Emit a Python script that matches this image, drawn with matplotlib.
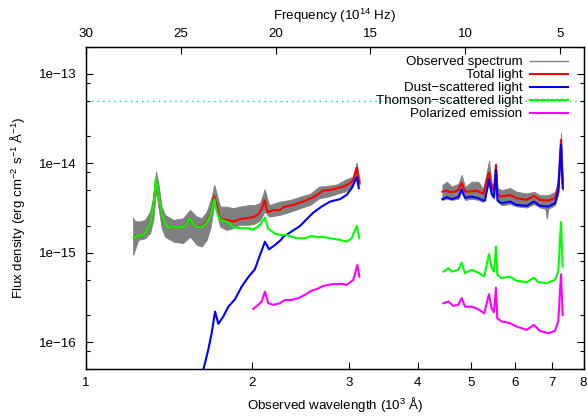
import matplotlib
matplotlib.use('Agg')
import matplotlib.pyplot as plt
from matplotlib.lines import Line2D
from matplotlib.ticker import FixedLocator, NullLocator

plt.rcParams['font.family'] = ['Liberation Sans', 'DejaVu Sans']
plt.rcParams['mathtext.fontset'] = 'custom'
plt.rcParams['mathtext.rm'] = 'Liberation Sans'
plt.rcParams['mathtext.it'] = 'Liberation Sans:italic'
plt.rcParams['font.size'] = 9.6

# wavelengths in 10^3 A, fluxes in erg cm^-2 s^-1 A^-1
e15 = 1e-15
e16 = 1e-16

# observed spectrum: upper / lower edge of the noisy trace
obs_uv_wave = [1.218, 1.222, 1.244, 1.280, 1.307, 1.325, 1.340, 1.353, 1.372, 1.391, 1.440,
               1.500, 1.545, 1.589, 1.622, 1.656, 1.684, 1.710, 1.751, 1.800, 1.850, 1.900,
               1.970, 2.020, 2.070, 2.110, 2.150, 2.250, 2.350, 2.450, 2.550, 2.650, 2.750,
               2.850, 2.950, 3.050, 3.100, 3.130, 3.140]
obs_uv_hi = [2.45, 2.30, 2.23, 2.33, 2.88, 4.24, 8.07, 5.99, 3.28, 2.65, 2.33,
             2.43, 3.01, 2.53, 2.43, 2.88, 3.90, 5.73, 3.28, 3.28, 3.15, 3.28,
             3.40, 3.40, 3.60, 5.13, 3.42, 3.73, 3.90, 4.24, 4.55, 5.49, 5.60,
             5.80, 6.50, 7.10, 10.2, 7.10, 6.50]
obs_uv_lo = [0.95, 1.00, 1.39, 1.45, 1.65, 2.33, 5.04, 3.28, 1.88, 1.51, 1.33,
             1.28, 1.51, 1.22, 1.17, 1.39, 1.96, 3.58, 1.96, 1.80, 1.88, 2.05,
             2.05, 2.10, 2.30, 2.90, 2.53, 2.65, 2.88, 3.15, 3.42, 4.07, 4.24,
             4.55, 4.82, 5.49, 7.50, 5.70, 5.90]

obs_opt_wave = [4.436, 4.517, 4.612, 4.741, 4.808, 4.875, 5.013, 5.150, 5.262, 5.389,
                5.450, 5.503, 5.549, 5.584, 5.683, 5.884, 6.050, 6.310, 6.505, 6.670,
                6.820, 6.860, 6.905, 7.101, 7.200, 7.282, 7.334]
obs_opt_hi = [5.73, 6.24, 5.49, 5.90, 7.42, 5.40, 6.24, 6.24, 5.20, 10.7,
              6.00, 5.80, 10.0, 5.30, 5.00, 5.30, 4.80, 4.60, 4.80, 4.40,
              4.40, 4.40, 4.40, 4.80, 6.50, 22.0, 7.00]
obs_opt_lo = [3.90, 4.00, 3.90, 4.00, 4.80, 3.90, 4.00, 3.90, 3.70, 6.00,
              4.30, 4.00, 7.50, 3.70, 3.40, 3.50, 3.30, 3.20, 3.50, 3.20,
              3.10, 2.40, 3.10, 3.40, 4.60, 15.0, 5.00]

# total light
total_uv_wave = [1.222, 1.244, 1.257, 1.280, 1.307, 1.325, 1.340, 1.353, 1.372, 1.391, 1.411,
                 1.440, 1.461, 1.477, 1.502, 1.523, 1.545, 1.562, 1.589, 1.622, 1.656, 1.684,
                 1.710, 1.751, 1.801, 1.851, 1.903, 1.957, 2.012, 2.055, 2.084, 2.110, 2.134,
                 2.188, 2.250, 2.281, 2.378, 2.480, 2.586, 2.696, 2.812, 2.932, 3.015, 3.057,
                 3.101, 3.122, 3.135]
total_uv_flux = [1.45, 1.58, 1.54, 1.65, 2.05, 3.28, 6.64, 4.63, 2.77, 2.14, 1.88,
                 1.99, 1.88, 1.96, 1.93, 2.05, 2.43, 2.14, 1.95, 1.97, 2.20, 2.75,
                 4.24, 2.37, 2.33, 2.23, 2.37, 2.43, 2.50, 2.70, 3.10, 3.85, 2.85,
                 3.00, 3.00, 3.23, 3.42, 3.73, 4.18, 4.95, 5.13, 5.49, 5.99, 6.52,
                 8.95, 6.81, 6.08]
total_opt_wave = [4.436, 4.498, 4.580, 4.676, 4.741, 4.808, 4.875, 4.977, 5.119, 5.262,
                  5.389, 5.450, 5.503, 5.549, 5.584, 5.683, 5.884, 6.050, 6.310, 6.505,
                  6.670, 6.905, 7.101, 7.200, 7.282, 7.334]
total_opt_flux = [4.82, 4.95, 4.75, 4.82, 5.04, 6.00, 4.85, 4.82, 4.95, 4.55,
                  7.87, 5.27, 5.04, 9.60, 4.43, 4.24, 4.43, 4.07, 3.90, 4.32,
                  3.90, 3.83, 4.07, 5.49, 18.3, 5.99]

# dust-scattered light
dust_uv_wave = [1.633, 1.667, 1.691, 1.715, 1.739, 1.775, 1.813, 1.864, 1.917, 1.970,
                2.026, 2.070, 2.113, 2.149, 2.203, 2.259, 2.281, 2.346, 2.446, 2.515,
                2.586, 2.678, 2.773, 2.891, 2.973, 3.036, 3.101, 3.128]
dust_uv_flux = [0.49, 0.82, 1.26, 2.19, 1.60, 1.93, 2.49, 3.02, 4.18, 5.32,
                6.54, 9.45, 13.3, 10.9, 12.2, 13.9, 15.1, 16.8, 19.9, 23.7,
                28.1, 32.8, 37.3, 39.7, 44.3, 52.7, 69.9, 52.7]
dust_opt_wave = [4.436, 4.517, 4.612, 4.741, 4.808, 4.875, 5.013, 5.153, 5.262, 5.300,
                 5.389, 5.450, 5.503, 5.549, 5.584, 5.683, 5.884, 6.050, 6.310, 6.505,
                 6.670, 6.905, 7.101, 7.200, 7.282, 7.334]
dust_opt_flux = [3.97, 4.18, 3.97, 4.18, 5.10, 4.10, 4.24, 4.07, 3.83, 3.83,
                 6.64, 4.55, 4.18, 8.44, 3.83, 3.58, 3.73, 3.42, 3.34, 3.73,
                 3.34, 3.28, 3.58, 4.82, 16.1, 5.27]

# Thomson-scattered light
thom_uv_wave = [1.222, 1.244, 1.257, 1.280, 1.307, 1.325, 1.340, 1.353, 1.372, 1.391, 1.411,
                1.440, 1.461, 1.477, 1.502, 1.523, 1.545, 1.562, 1.589, 1.622, 1.656, 1.684,
                1.710, 1.727, 1.751, 1.801, 1.851, 1.903, 1.970, 2.012, 2.070, 2.113, 2.142,
                2.203, 2.249, 2.314, 2.412, 2.497, 2.568, 2.623, 2.678, 2.773, 2.891, 2.973,
                3.036, 3.101, 3.135]
thom_uv_flux = [1.45, 1.58, 1.54, 1.65, 2.05, 3.28, 6.64, 4.63, 2.77, 2.14, 1.88,
                1.99, 1.88, 1.96, 1.93, 2.05, 2.43, 2.14, 1.93, 1.93, 2.14, 2.65,
                3.97, 2.88, 2.33, 2.23, 1.93, 1.88, 1.88, 1.80, 2.05, 2.47, 1.85,
                1.63, 1.58, 1.58, 1.45, 1.45, 1.54, 1.49, 1.51, 1.45, 1.39, 1.33,
                1.45, 1.99, 1.45]
thom_opt_wave = [4.454, 4.548, 4.612, 4.741, 4.808, 4.875, 5.013, 5.153, 5.284, 5.389,
                 5.450, 5.503, 5.549, 5.580, 5.683, 5.884, 6.050, 6.310, 6.505, 6.622,
                 6.859, 7.101, 7.200, 7.282, 7.334]
thom_opt_flux = [6.14, 6.71, 6.14, 6.42, 7.75, 5.90, 6.42, 5.99, 5.40, 9.62,
                 6.81, 6.14, 11.7, 5.65, 5.19, 5.40, 4.84, 4.68, 5.26, 4.68,
                 4.56, 4.96, 6.14, 22.1, 6.99]

# polarized emission
pol_uv_wave = [2.012, 2.055, 2.084, 2.113, 2.142, 2.188, 2.249, 2.297, 2.362, 2.429,
               2.497, 2.568, 2.623, 2.696, 2.793, 2.912, 2.973, 3.057, 3.109, 3.135]
pol_uv_flux = [2.35, 2.61, 2.84, 3.67, 2.72, 2.61, 2.72, 2.96, 2.96, 3.10,
               3.37, 3.77, 3.91, 4.25, 4.44, 4.48, 4.36, 4.96, 7.30, 5.40]
pol_opt_wave = [4.454, 4.548, 4.643, 4.741, 4.808, 4.875, 5.013, 5.153, 5.284, 5.389,
                5.450, 5.503, 5.549, 5.580, 5.683, 5.884, 6.050, 6.310, 6.505, 6.670,
                6.905, 7.101, 7.200, 7.282, 7.334]
pol_opt_flux = [2.72, 2.84, 2.54, 2.61, 3.10, 2.49, 2.49, 2.33, 2.10, 3.43,
                2.39, 2.16, 4.07, 1.85, 1.70, 1.63, 1.49, 1.37, 1.56, 1.33,
                1.26, 1.33, 1.70, 5.75, 2.01]

ref_level = 5e-14

x_ticks = [1, 2, 3, 4, 5, 6, 7, 8]
freq_ticks = [30, 25, 20, 15, 10, 5]
y_major = [1e-16, 1e-15, 1e-14, 1e-13]
y_minor = [m * d for d in [1e-17, 1e-16, 1e-15, 1e-14, 1e-13] for m in (2, 5, 8)]

fig = plt.figure(figsize=(5.87, 4.2), dpi=100)
ax = fig.add_axes([86 / 587, 1 - 369 / 420, 497.5 / 587, 322 / 420])

def sc(vals, unit):
    return [v * unit for v in vals]

ax.axhline(ref_level, color='#00d0d0', lw=1.0, ls=(0, (1, 3)), zorder=1)

for w, lo, hi in [(obs_uv_wave, obs_uv_lo, obs_uv_hi), (obs_opt_wave, obs_opt_lo, obs_opt_hi)]:
    ax.fill_between(w, sc(lo, e15), sc(hi, e15), color='#808080', lw=0.6, edgecolor='#808080', zorder=2)

lw = 1.5
ax.plot(total_uv_wave, sc(total_uv_flux, e15), color='#ff0000', lw=lw, zorder=3)
ax.plot(total_opt_wave, sc(total_opt_flux, e15), color='#ff0000', lw=lw, zorder=3)
ax.plot(dust_uv_wave, sc(dust_uv_flux, e16), color='#0000ff', lw=lw, zorder=4)
ax.plot(dust_opt_wave, sc(dust_opt_flux, e15), color='#0000ff', lw=lw, zorder=4)
ax.plot(thom_uv_wave, sc(thom_uv_flux, e15), color='#00ff00', lw=lw, zorder=5)
ax.plot(thom_opt_wave, sc(thom_opt_flux, e16), color='#00ff00', lw=lw, zorder=5)
ax.plot(pol_uv_wave, sc(pol_uv_flux, e16), color='#ff00ff', lw=lw, zorder=6)
ax.plot(pol_opt_wave, sc(pol_opt_flux, e16), color='#ff00ff', lw=lw, zorder=6)

ax.set_xscale('log')
ax.set_yscale('log')
ax.set_xlim(1, 8)
ax.set_ylim(5e-17, 2e-13)

ax.xaxis.set_major_locator(FixedLocator(x_ticks))
ax.xaxis.set_minor_locator(NullLocator())
ax.set_xticklabels([str(t) for t in x_ticks])
ax.yaxis.set_major_locator(FixedLocator(y_major))
ax.yaxis.set_minor_locator(FixedLocator(y_minor))
ax.set_yticklabels(['1e\u221216', '1e\u221215', '1e\u221214', '1e\u221213'])
ax.yaxis.set_minor_formatter(plt.NullFormatter())

ax.tick_params(axis='x', which='both', direction='in', top=False, length=5, width=0.8, pad=6)
ax.tick_params(axis='y', which='major', direction='in', left=True, right=True, length=5, width=0.8, pad=7)
ax.tick_params(axis='y', which='minor', direction='in', left=True, right=True, length=3, width=0.8)
for s in ax.spines.values():
    s.set_linewidth(1.0)

ax.set_xlabel('Observed wavelength (10$^{3}$ \u00c5)', labelpad=4)
ax.set_ylabel('Flux density (erg cm$^{\u22122}$ s$^{\u22121}$ \u00c5$^{\u22121}$)', labelpad=8)

ax2 = ax.twiny()
ax2.set_xlim(30, 3.75)
ax2.xaxis.set_major_locator(FixedLocator(freq_ticks))
ax2.set_xticklabels([str(t) for t in freq_ticks])
ax2.tick_params(axis='x', direction='in', length=5, width=0.8, pad=5)
ax2.set_xlabel('Frequency (10$^{14}$ Hz)', labelpad=6)

handles = [Line2D([], [], color='#808080', lw=1.0),
           Line2D([], [], color='#ff0000', lw=lw),
           Line2D([], [], color='#0000ff', lw=lw),
           Line2D([], [], color='#00ff00', lw=lw),
           Line2D([], [], color='#ff00ff', lw=lw)]
labels = ['Observed spectrum', 'Total light', 'Dust\u2212scattered light',
          'Thomson\u2212scattered light', 'Polarized emission']
leg = ax.legend(handles, labels, loc='upper right', bbox_to_anchor=(0.968, 0.972),
                frameon=False, markerfirst=False, handlelength=2.8, handletextpad=0.6,
                labelspacing=0.05, borderpad=0, borderaxespad=0)
leg.set_zorder(7)

fig.savefig('out.png', dpi=100)
